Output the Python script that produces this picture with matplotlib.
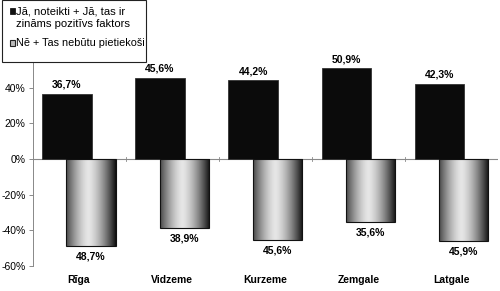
import numpy as np
import matplotlib
matplotlib.use("Agg")
import matplotlib.pyplot as plt
from matplotlib.patches import Rectangle

categories = ["Rīga", "Vidzeme", "Kurzeme", "Zemgale", "Latgale"]
yes_vals = [36.7, 45.6, 44.2, 50.9, 42.3]
no_vals = [-48.7, -38.9, -45.6, -35.6, -45.9]
yticks = [-60, -40, -20, 0, 20, 40]
ytick_labels = ["-60%", "-40%", "-20%", "0%", "20%", "40%"]
series_names = ["Jā, noteikti + Jā, tas ir\nzināms pozitīvs faktors", "Nē + Tas nebūtu pietiekoši"]

plt.rcParams['font.family'] = ['Liberation Sans', 'DejaVu Sans']

W, H = 500, 291
fig = plt.figure(figsize=(W / 100, H / 100), dpi=100)
ax = fig.add_axes([32.5 / W, 1 - 266 / H, (498 - 32.5) / W, (266 - 52) / H])

x = np.arange(len(categories))
bw = 0.53
off = 0.13

dark = ax.bar(x - off, yes_vals, bw, color="#0b0b0b", edgecolor="#333333", linewidth=0.6, zorder=3)
light = ax.bar(x + off, no_vals, bw, color="none", edgecolor="#111111", linewidth=0.8, zorder=4)

# horizontal cylinder-like gradient
t = np.linspace(0, 1, 256)
prof = np.clip(1 - np.abs((t - 0.45) / 0.55) ** 1.5, 0, 1)
shade = 0.06 + 0.84 * prof
grad = np.tile(shade, (2, 1))
for r in light:
    x0, w = r.get_x(), r.get_width()
    y0, h = r.get_y(), r.get_height()
    im = ax.imshow(grad, cmap="gray", vmin=0, vmax=1, aspect="auto",
                   extent=(x0, x0 + w, y0, y0 + h), zorder=3, interpolation="bilinear")
    im.set_clip_path(r)

for xi, v in zip(x - off, yes_vals):
    ax.text(xi, v + 2.2, f"{v:.1f}%".replace(".", ","), ha="center", va="bottom",
            fontsize=7.5, fontweight="bold", zorder=5)
for xi, v in zip(x + off, no_vals):
    ax.text(xi, v - 3.0, f"{abs(v):.1f}%".replace(".", ","), ha="center", va="top",
            fontsize=7.5, fontweight="bold", zorder=5)

ax.set_xlim(-0.5, len(categories) - 0.5)
ax.set_ylim(-60, 60)
ax.set_yticks(yticks)
ax.set_yticklabels(ytick_labels, fontsize=7.5)
ax.tick_params(axis="y", length=3, width=0.6, color="#777777", pad=2)

ax.set_xticks([])
for s in ["top", "right", "bottom"]:
    ax.spines[s].set_visible(False)
ax.spines["left"].set_color("#888888")
ax.spines["left"].set_linewidth(0.7)
ax.axhline(0, color="#888888", linewidth=0.8, zorder=2)
for b in np.arange(0.5, len(categories) - 0.5, 1.0):
    ax.plot([b, b], [-1.2, 1.2], color="#888888", linewidth=0.6, zorder=2)

trans = ax.get_xaxis_transform()
for xi, c in zip(x, categories):
    ax.text(xi, -0.065, c, transform=trans, ha="center", va="center",
            fontsize=7.5, fontweight="bold")

# legend box
fig.patches.append(Rectangle((2 / W, 1 - 62 / H), 144 / W, 61.5 / H, transform=fig.transFigure,
                             facecolor="white", edgecolor="#222222", linewidth=0.8, zorder=10))
fig.patches.append(Rectangle((9.5 / W, 1 - 13.5 / H), 5 / W, 5 / H, transform=fig.transFigure,
                             facecolor="#111111", edgecolor="#000000", linewidth=0.5, zorder=11))
fig.patches.append(Rectangle((9.5 / W, 1 - 45.5 / H), 5 / W, 5 / H, transform=fig.transFigure,
                             facecolor="#bbbbbb", edgecolor="#222222", linewidth=0.8, zorder=11))
lines1 = series_names[0].split("\n")
fig.text(16.5 / W, 1 - 11.5 / H, lines1[0], ha="left", va="center", fontsize=8.1, zorder=12)
fig.text(16.5 / W, 1 - 24 / H, lines1[1], ha="left", va="center", fontsize=8.1, zorder=12)
fig.text(16.5 / W, 1 - 42.5 / H, series_names[1], ha="left", va="center", fontsize=7.8, zorder=12)

fig.savefig("out.png", dpi=100)
